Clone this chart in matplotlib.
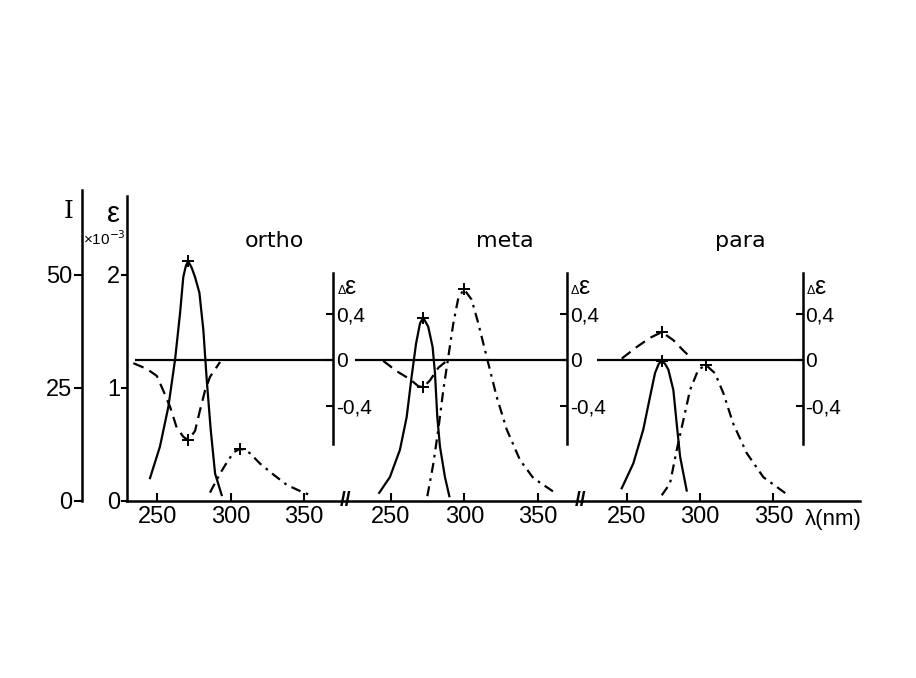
import numpy as np
import matplotlib.pyplot as plt

plt.rcParams['font.family'] = ['Liberation Sans', 'DejaVu Sans']

W, H = 916, 678

# ---- data ----
panels = ['ortho', 'meta', 'para']

# absorption (epsilon x 10^-3), solid
abs_nm = [
    [245.0, 251.8, 257.5, 262.1, 265.5, 267.7, 269.5, 271.1, 273.5, 275.7, 278.7, 281.4, 283.7, 286.4, 289.4, 293.9],
    [242.0, 249.3, 256.1, 260.7, 264.1, 267.1, 269.8, 272.0, 275.4, 278.4, 280.0, 281.6, 283.4, 286.8, 289.8],
    [246.6, 254.5, 261.3, 265.9, 269.3, 271.8, 273.9, 276.2, 278.4, 281.8, 284.1, 286.4, 290.9],
]
abs_eps = [
    [0.20, 0.48, 0.83, 1.25, 1.66, 1.98, 2.08, 2.12, 2.06, 1.98, 1.84, 1.51, 1.07, 0.63, 0.24, 0.05],
    [0.07, 0.21, 0.45, 0.74, 1.10, 1.39, 1.57, 1.62, 1.54, 1.36, 1.13, 0.74, 0.48, 0.21, 0.04],
    [0.11, 0.33, 0.63, 0.92, 1.13, 1.21, 1.24, 1.21, 1.16, 0.98, 0.68, 0.39, 0.09],
]

# circular dichroism (delta epsilon), dashed
cd_nm = [
    [233.6, 242.8, 249.6, 254.1, 258.7, 263.2, 267.7, 271.1, 275.7, 279.1, 282.5, 285.9, 292.8],
    [244.7, 253.9, 263.0, 268.6, 272.0, 276.6, 282.3, 288.0],
    [246.6, 256.8, 265.9, 273.9, 281.8, 288.6, 294.3],
]
cd_de = [
    [-0.03, -0.08, -0.14, -0.27, -0.41, -0.59, -0.67, -0.70, -0.62, -0.44, -0.27, -0.15, -0.02],
    [-0.01, -0.10, -0.17, -0.23, -0.24, -0.18, -0.07, -0.01],
    [0.01, 0.11, 0.19, 0.24, 0.17, 0.08, 0.01],
]

# fluorescence intensity I, dash-dot
fl_nm = [
    [285.9, 292.8, 298.4, 302.5, 306.4, 310.0, 313.2, 320.1, 329.1, 338.3, 349.6, 356.4],
    [274.8, 278.9, 282.3, 285.7, 289.1, 292.5, 295.9, 299.8, 305.0, 309.6, 315.3, 322.1, 328.9, 338.0, 347.1, 360.8],
    [273.9, 279.5, 284.1, 288.6, 293.2, 298.8, 304.1, 310.2, 315.9, 322.7, 331.9, 343.2, 360.2],
]
fl_I = [
    [1.8, 6.0, 9.0, 10.8, 11.5, 11.2, 10.5, 8.2, 5.8, 3.5, 1.8, 1.0],
    [1.0, 8.2, 15.8, 24.5, 31.8, 39.2, 44.8, 46.8, 44.5, 39.2, 31.8, 23.0, 15.8, 9.0, 5.0, 2.0],
    [1.2, 3.8, 11.2, 17.8, 24.5, 29.0, 30.0, 28.2, 23.8, 17.0, 10.5, 5.2, 1.2],
]

xticks = [250, 300, 350]
eps_ticks = [0, 1, 2]
I_ticks = [0, 25, 50]
de_ticks = [-0.4, 0, 0.4]
de_labels = ['-0,4', '0', '0,4']
zero_start = [234.8, 225.4, 229.7]

# ---- layout (pixels) ----
left_px = [127, 347, 582]
right_px = [347, 582, 860]
xlims = [(229.3, 379.4), (220.0, 380.3), (219.5, 409.1)]
ytop, ybot = 190, 500.7
eps_max = 2.75
de_zero = 1.248   # epsilon value where delta-eps = 0
de_scale = 1.018  # epsilon units per delta-eps unit
de_axis_x = 370

fig = plt.figure(figsize=(W / 100, H / 100), dpi=100)
fig.patch.set_facecolor('white')

lw = 1.6
dash = (0, (5, 3))
dashdot = (0, (4.5, 2.5, 1.2, 2.5))
txt_font = ['DejaVu Sans']


def fx(x):
    return x / W


def fy(y):
    return 1 - y / H


for i, name in enumerate(panels):
    ax = fig.add_axes([fx(left_px[i]), fy(ybot), (right_px[i] - left_px[i]) / W, (ybot - ytop) / H])
    ax.set_facecolor('none')
    ax.set_xlim(*xlims[i])
    ax.set_ylim(0, eps_max)
    for s in ['top', 'right']:
        ax.spines[s].set_visible(False)
    ax.spines['bottom'].set_linewidth(1.8)
    ax.set_xticks(xticks)
    ax.tick_params(axis='x', direction='in', length=6, width=1.5, labelsize=17, pad=4)
    if i == 0:
        ax.spines['left'].set_linewidth(1.8)
        ax.spines['left'].set_bounds(0, 2.7)
        ax.set_yticks(eps_ticks)
        ax.set_yticklabels([str(t) for t in eps_ticks])
        ax.tick_params(axis='y', direction='out', length=4, width=1.5, labelsize=17, pad=1)
    else:
        ax.spines['left'].set_visible(False)
        ax.set_yticks([])

    # absorption
    ae = np.array(abs_eps[i])
    ax.plot(abs_nm[i], ae, color='black', lw=lw, marker='+', markersize=9, mew=1.4,
            markevery=[int(np.argmax(ae))], clip_on=False)

    # fluorescence on I scale
    axI = ax.twinx()
    axI.set_ylim(0, eps_max * 25)
    for s in ['top', 'right', 'bottom']:
        axI.spines[s].set_visible(False)
    if i == 0:
        axI.yaxis.set_ticks_position('left')
        axI.spines['left'].set_position(('outward', 32.6))
        axI.spines['left'].set_linewidth(1.8)
        axI.set_yticks(I_ticks)
        axI.set_yticklabels([str(t) for t in I_ticks])
        axI.tick_params(axis='y', direction='out', length=6, width=1.5, labelsize=17, pad=1,
                        left=True, labelleft=True, right=False, labelright=False)
    else:
        axI.spines['left'].set_visible(False)
        axI.set_yticks([])
    fi = np.array(fl_I[i])
    axI.plot(fl_nm[i], fi, color='black', lw=lw, linestyle=dashdot, marker='+', markersize=9,
             mew=1.4, markevery=[int(np.argmax(fi))])

    # circular dichroism on delta-eps scale
    axD = ax.twinx()
    axD.set_ylim(-de_zero / de_scale, (eps_max - de_zero) / de_scale)
    for s in ['top', 'left', 'bottom']:
        axD.spines[s].set_visible(False)
    axD.spines['right'].set_position(('data', de_axis_x))
    axD.spines['right'].set_bounds(-0.73, 0.75)
    axD.spines['right'].set_linewidth(1.8)
    axD.set_yticks(de_ticks)
    axD.set_yticklabels(de_labels)
    axD.tick_params(axis='y', direction='in', length=5, width=1.5, labelsize=15, pad=2)
    axD.hlines(0, zero_start[i], de_axis_x, color='black', lw=lw)
    cd = np.array(cd_de[i])
    axD.plot(cd_nm[i], cd, color='black', lw=lw, linestyle=dash, marker='+', markersize=9,
             mew=1.4, markevery=[int(np.argmax(np.abs(cd)))])

    # delta-eps label at top of the axis
    sx = left_px[i] + (de_axis_x - xlims[i][0]) * (right_px[i] - left_px[i]) / (xlims[i][1] - xlims[i][0])
    fig.text(fx(sx + 4), fy(294), '\u0394', fontsize=9, ha='left', va='baseline')
    fig.text(fx(sx + 11), fy(294), '\u03b5', fontsize=18, ha='left', va='baseline')

# panel titles
title_x = [274, 505, 740]
for name, tx in zip(panels, title_x):
    fig.text(fx(tx), fy(247), name, fontsize=16, family=txt_font, ha='center', va='baseline')

# axis labels
fig.text(fx(69), fy(218), 'I', fontsize=18, family='DejaVu Serif', ha='center', va='baseline')
fig.text(fx(113), fy(222), '\u03b5', fontsize=21, ha='center', va='baseline')
fig.text(fx(104), fy(245), '\u00d710$^{-3}$', fontsize=11, ha='center', va='baseline')
fig.text(fx(833), fy(520), '\u03bb(nm)', fontsize=16, ha='center', va='center')

# axis break marks
for bx in [346, 581]:
    fig.text(fx(bx), fy(501), '//', fontsize=15, fontweight='bold', ha='center', va='center')

fig.savefig('out.png', dpi=100, facecolor='white')
